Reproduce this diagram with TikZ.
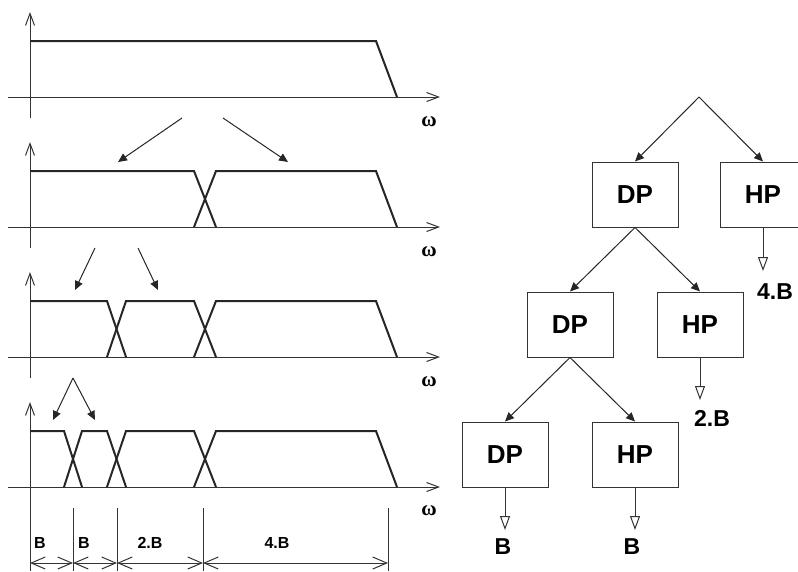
\documentclass[tikz,border=0pt]{standalone}
\usepackage{fontspec}
\setmainfont{Liberation Sans}
\newfontfamily\omegafont{Liberation Serif}
\usetikzlibrary{arrows.meta}
\begin{document}
\begin{tikzpicture}[x=1pt,y=-1pt,
  axis/.style={line width=1pt, draw=black!80, -{Straight Barb[length=12pt,width=9pt]}},
  sig/.style={line width=2pt, draw=black!85, line join=miter},
  pointer/.style={line width=1pt, draw=black!85, -{Triangle[length=9pt,width=8pt]}},
  box/.style={draw=black!80, line width=1pt, minimum width=86pt, minimum height=65pt, inner sep=0pt, font=\fontsize{26}{30}\selectfont\bfseries},
  outarrow/.style={line width=1pt, draw=black!80, -{Triangle[open,length=14pt,width=10pt]}},
  olabel/.style={font=\fontsize{23}{27}\selectfont\bfseries, inner sep=0pt},
  wlabel/.style={font=\omegafont\bfseries\fontsize{21}{25}\selectfont, inner sep=0pt},
  blabel/.style={font=\fontsize{16}{19}\selectfont\bfseries, inner sep=0pt},
  dim/.style={line width=1pt, draw=black!80, {Straight Barb[length=14pt,width=12pt]}-{Straight Barb[length=14pt,width=12pt]}},
  tickline/.style={line width=1pt, draw=black!80}
]
\useasboundingbox (0,0) rectangle (798,571);

% axes
\foreach \b/\n in {97/1,227/2,357/3} {
  \draw[axis] (8,\b) -- (440,\b);
  \draw[axis] (30,\b+21) -- (30,\b-85);
  \node[wlabel] (w\n) at (429,\b+25) {ω};
}
\draw[axis] (8,487) -- (440,487);
\draw[axis] (30,571) -- (30,402);
\node[wlabel] (w4) at (429,511) {ω};

% spectra
\draw[sig] (30,41) -- (376,41) -- (397,97);

\draw[sig] (30,171) -- (194,171) -- (216,227);
\draw[sig] (194,227) -- (216,171) -- (376,171) -- (397,227);

\draw[sig] (30,301) -- (107,301) -- (126,357);
\draw[sig] (107,357) -- (126,301) -- (194,301) -- (216,357);
\draw[sig] (194,357) -- (216,301) -- (376,301) -- (397,357);

\draw[sig] (30,431) -- (64,431) -- (82,487);
\draw[sig] (64,487) -- (82,431) -- (107,431) -- (126,487);
\draw[sig] (107,487) -- (126,431) -- (194,431) -- (216,487);
\draw[sig] (194,487) -- (216,431) -- (376,431) -- (397,487);

% split arrows
\coordinate (s1a) at (182,118); \coordinate (t1a) at (118,162);
\coordinate (s1b) at (223,118); \coordinate (t1b) at (288,162);
\coordinate (s2a) at (95,248);  \coordinate (t2a) at (75,290);
\coordinate (s2b) at (138,248); \coordinate (t2b) at (158,290);
\coordinate (s3) at (73,378);   \coordinate (t3a) at (53,420); \coordinate (t3b) at (95,420);
\draw[pointer] (s1a) -- (t1a);
\draw[pointer] (s1b) -- (t1b);
\draw[pointer] (s2a) -- (t2a);
\draw[pointer] (s2b) -- (t2b);
\draw[pointer] (s3) -- (t3a);
\draw[pointer] (s3) -- (t3b);

% dimensions
\foreach \x/\n in {73/b,117/c,203/d,388/e} {
  \draw[tickline] (\x,508) -- (\x,571);
  \coordinate (d\n) at (\x,563);
}
\coordinate (da) at (30,563);
\draw[dim] (da) -- (db);
\draw[dim] (db) -- (dc);
\draw[dim] (dc) -- (dd);
\draw[dim] (dd) -- (de);
\node[blabel, anchor=west] (lb1) at (34,543) {B};
\node[blabel, anchor=west] (lb2) at (78,543) {B};
\node[blabel] (lb3) at (150,543) {2.B};
\node[blabel] (lb4) at (277,543) {4.B};

% tree
\coordinate (root) at (699,97);
\node[box] (dp1) at (635,194.5) {DP};
\node[box] (hp1) at (763,194.5) {HP};
\node[box] (dp2) at (570,324.5) {DP};
\node[box] (hp2) at (700,324.5) {HP};
\node[box] (dp3) at (505,454.5) {DP};
\node[box] (hp3) at (635,454.5) {HP};
\draw[pointer] (root) -- (dp1.north);
\draw[pointer] (root) -- (hp1.north);
\draw[pointer] (dp1.south) -- (dp2.north);
\draw[pointer] (dp1.south) -- (hp2.north);
\draw[pointer] (dp2.south) -- (dp3.north);
\draw[pointer] (dp2.south) -- (hp3.north);

\coordinate (o1) at (763,271);
\coordinate (o2) at (700,400);
\coordinate (o3) at (505,530);
\coordinate (o4) at (635,530);
\draw[outarrow] (hp1.south) -- (o1);
\draw[outarrow] (hp2.south) -- (o2);
\draw[outarrow] (dp3.south) -- (o3);
\draw[outarrow] (hp3.south) -- (o4);
\node[olabel] (r1) at (775,292) {4.B};
\node[olabel] (r2) at (712,418) {2.B};
\node[olabel] (r3) at (503,547) {B};
\node[olabel] (r4) at (632,547) {B};
\end{tikzpicture}
\end{document}
